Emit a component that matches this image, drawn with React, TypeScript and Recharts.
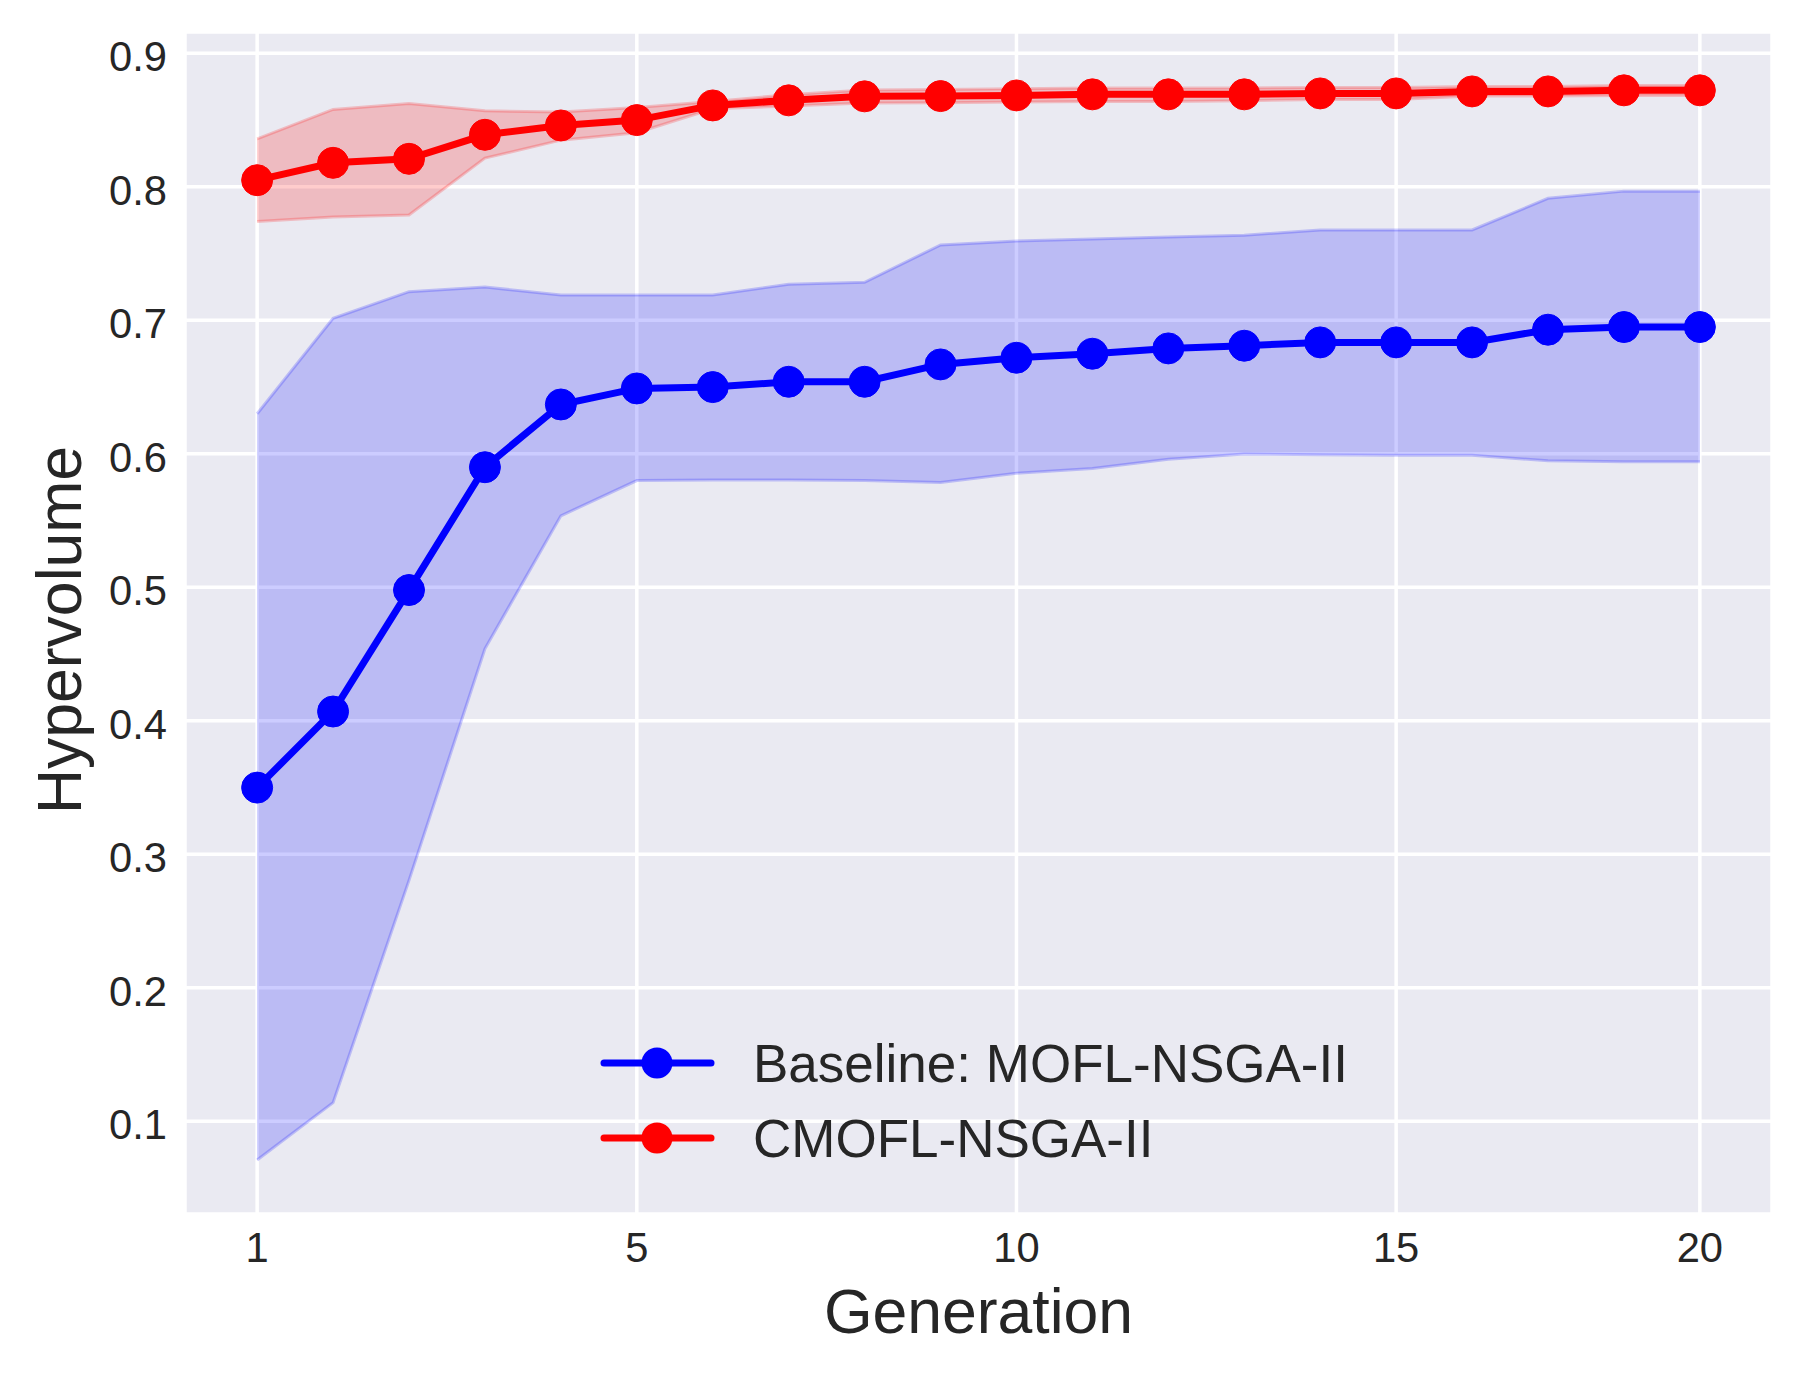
import { ComposedChart, Area, Line, XAxis, YAxis, CartesianGrid, Legend } from 'recharts';

// x positions of the 20 generations (plotted by index), and the labelled ticks
const GEN_INDEX = [0, 1, 2, 3, 4, 5, 6, 7, 8, 9, 10, 11, 12, 13, 14, 15, 16, 17, 18, 19];
const X_TICKS = [0, 5, 10, 15, 19];
const X_TICK_LABELS = ['1', '5', '10', '15', '20'];
const Y_TICKS = [0.1, 0.2, 0.3, 0.4, 0.5, 0.6, 0.7, 0.8, 0.9];

const BASELINE_NAME = 'Baseline: MOFL-NSGA-II';
const CMOFL_NAME = 'CMOFL-NSGA-II';

const baselineMean = [0.35, 0.407, 0.498, 0.59, 0.637, 0.649, 0.65, 0.654, 0.654, 0.667, 0.672, 0.675, 0.679, 0.681, 0.6835, 0.6835, 0.6835, 0.693, 0.695, 0.695];
const baselineUpper = [0.63, 0.7015, 0.7215, 0.725, 0.719, 0.719, 0.719, 0.727, 0.7285, 0.7565, 0.7595, 0.761, 0.7625, 0.7637, 0.7677, 0.7677, 0.7677, 0.7914, 0.7968, 0.7968];
const baselineLower = [0.071, 0.114, 0.2805, 0.454, 0.5536, 0.58, 0.5804, 0.5804, 0.58, 0.5786, 0.5854, 0.5891, 0.5959, 0.5999, 0.5994, 0.599, 0.599, 0.5948, 0.594, 0.594];

const cmoflMean = [0.805, 0.818, 0.821, 0.839, 0.846, 0.85, 0.861, 0.8648, 0.8678, 0.868, 0.8685, 0.8693, 0.8693, 0.8693, 0.87, 0.87, 0.8715, 0.8715, 0.8723, 0.8723];
const cmoflUpper = [0.836, 0.858, 0.8625, 0.857, 0.856, 0.8595, 0.864, 0.869, 0.8725, 0.873, 0.8735, 0.874, 0.874, 0.874, 0.8745, 0.8745, 0.8752, 0.8752, 0.876, 0.876];
const cmoflLower = [0.774, 0.7775, 0.779, 0.8215, 0.835, 0.8405, 0.8585, 0.8605, 0.8628, 0.863, 0.8635, 0.864, 0.864, 0.8645, 0.8655, 0.8655, 0.868, 0.868, 0.8685, 0.8685];

const data = GEN_INDEX.map((g, i) => ({
  gen: g,
  baseline: baselineMean[i],
  baselineBand: [baselineLower[i], baselineUpper[i]],
  cmofl: cmoflMean[i],
  cmoflBand: [cmoflLower[i], cmoflUpper[i]],
}));

const FONT = '"Liberation Sans", Arial, Helvetica, sans-serif';
const TEXT = '#262626';
const BLUE = '#0000ff';
const RED = '#ff0000';

function YTitle() {
  return (
    <text
      transform="translate(81, 630) rotate(-90)"
      textAnchor="middle"
      fontSize={62.5}
      fontFamily={FONT}
      fill={TEXT}
    >
      Hypervolume
    </text>
  );
}

function LegendBox({ payload }: any) {
  const items = (payload || []).filter((p: any) => p.type !== 'none');
  return (
    <svg width={720} height={160} style={{ display: 'block', overflow: 'visible' }}>
      {items.map((item: any, i: number) => {
        const cy = 43 + i * 75;
        return (
          <g key={item.value}>
            <line x1={17} x2={124} y1={cy} y2={cy} stroke={item.color} strokeWidth={7} strokeLinecap="round" />
            <circle cx={70} cy={cy} r={15.5} fill={item.color} />
            <text x={166} y={cy + 19} fontSize={53} fontFamily={FONT} fill={TEXT}>
              {item.value}
            </text>
          </g>
        );
      })}
    </svg>
  );
}

export default function App() {
  return (
    <div style={{ position: 'absolute', left: 0, top: 0, width: 1804, height: 1377, background: '#ffffff' }}>
      <ComposedChart width={1804} height={1377} data={data} margin={{ top: 32, right: 32, bottom: 0, left: 0 }}>
        <CartesianGrid fill="#eaeaf2" fillOpacity={1} stroke="#ffffff" strokeWidth={3.5} />
        <XAxis
          dataKey="gen"
          type="number"
          domain={[-0.95, 19.95]}
          allowDataOverflow
          ticks={X_TICKS}
          tickFormatter={(v: number) => X_TICK_LABELS[X_TICKS.indexOf(v)]}
          axisLine={false}
          tickLine={false}
          tickSize={0}
          tickMargin={18}
          height={163}
          tick={{ fontSize: 41.7, fill: TEXT, fontFamily: FONT }}
          label={{ value: 'Generation', position: 'insideBottom', offset: 44, fontSize: 62.5, fill: TEXT, fontFamily: FONT }}
        />
        <YAxis
          type="number"
          domain={[0.0306, 0.916]}
          allowDataOverflow
          ticks={Y_TICKS}
          tickFormatter={(v: number) => v.toFixed(1)}
          axisLine={false}
          tickLine={false}
          tickSize={0}
          tickMargin={18}
          width={185}
          tick={{ fontSize: 41.7, fill: TEXT, fontFamily: FONT, dy: 3 }}
          label={<YTitle />}
        />
        <Area
          type="linear"
          dataKey="baselineBand"
          fill={BLUE}
          fillOpacity={0.2}
          stroke={BLUE}
          strokeOpacity={0.2}
          strokeWidth={3}
          legendType="none"
          isAnimationActive={false}
          activeDot={false}
        />
        <Area
          type="linear"
          dataKey="cmoflBand"
          fill={RED}
          fillOpacity={0.2}
          stroke={RED}
          strokeOpacity={0.2}
          strokeWidth={3}
          legendType="none"
          isAnimationActive={false}
          activeDot={false}
        />
        <Line
          type="linear"
          dataKey="baseline"
          name={BASELINE_NAME}
          stroke={BLUE}
          strokeWidth={7}
          dot={{ r: 15.5, fill: BLUE, stroke: BLUE, strokeWidth: 1 }}
          activeDot={false}
          isAnimationActive={false}
        />
        <Line
          type="linear"
          dataKey="cmofl"
          name={CMOFL_NAME}
          stroke={RED}
          strokeWidth={7}
          dot={{ r: 15.5, fill: RED, stroke: RED, strokeWidth: 1 }}
          activeDot={false}
          isAnimationActive={false}
        />
        <Legend
          layout="vertical"
          align="center"
          verticalAlign="middle"
          content={<LegendBox />}
          wrapperStyle={{ left: 587, top: 1020, width: 720, height: 160 }}
        />
      </ComposedChart>
    </div>
  );
}
